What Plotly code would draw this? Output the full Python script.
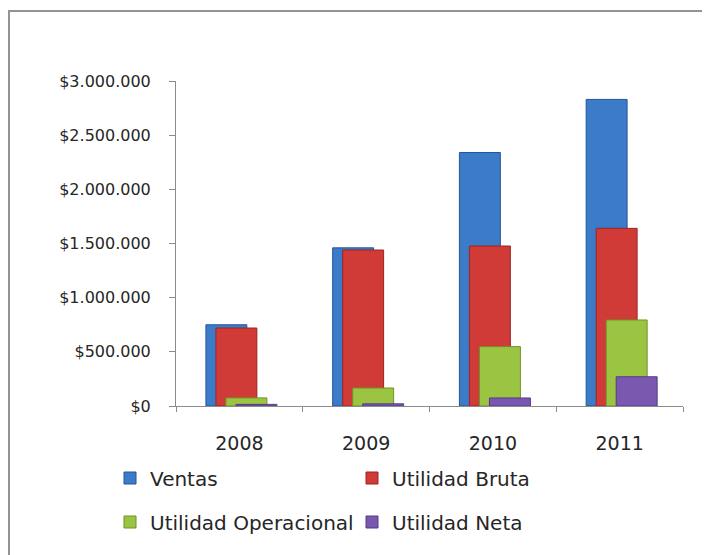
import plotly.graph_objects as go

years = ["2008", "2009", "2010", "2011"]
series_names = ["Ventas", "Utilidad Bruta", "Utilidad Operacional", "Utilidad Neta"]
ventas = [750000, 1460000, 2340000, 2830000]
utilidad_bruta = [720000, 1440000, 1477000, 1640000]
utilidad_operacional = [75000, 166000, 548000, 794000]
utilidad_neta = [15000, 20000, 74000, 270000]
y_ticks = [0, 500000, 1000000, 1500000, 2000000, 2500000, 3000000]
y_tick_labels = ["$" + f"{v:,}".replace(",", ".") for v in y_ticks]

values = [ventas, utilidad_bruta, utilidad_operacional, utilidad_neta]
colors = ["#3b7bc8", "#d03b38", "#9cc443", "#7b58b0"]
edges = ["#24569a", "#9c2523", "#6f9128", "#553a85"]
offsets = [-0.264, -0.185, -0.106, -0.027]
legend_ids = ["legend", "legend", "legend2", "legend2"]

# page body has an 8px margin, so work in figure coordinates
W, H = 702, 547
L, R, T, B = 168, 27, 73, 149
pw, ph = W - L - R, H - T - B

def px(x):
    return (x - L) / pw

def py(y):
    return (H - B - y) / ph

fig = go.Figure()
for name, vals, c, e, off, lg in zip(series_names, values, colors, edges, offsets, legend_ids):
    fig.add_trace(go.Bar(
        x=years, y=vals, name=name,
        marker=dict(color=c, line=dict(color=e, width=1)),
        width=0.323, offset=off, legend=lg,
    ))

font_fam = "DejaVu Sans, Verdana, sans-serif"
fig.update_layout(
    width=W, height=H,
    margin=dict(l=L, r=R, t=T, b=B, pad=0),
    paper_bgcolor="white", plot_bgcolor="white",
    barmode="overlay",
    font=dict(family=font_fam, color="#262626"),
    xaxis=dict(
        type="category", range=[-0.5, 3.5],
        showline=True, linecolor="#8c8c8c", linewidth=1,
        ticks="outside", ticklen=5, tickcolor="#8c8c8c", tickson="boundaries",
        tickfont=dict(size=19), ticklabelstandoff=20,
        showgrid=False, zeroline=False,
    ),
    yaxis=dict(
        range=[0, 3000000], tickvals=y_ticks, ticktext=y_tick_labels,
        showline=True, linecolor="#8c8c8c", linewidth=1,
        ticks="outside", ticklen=6, tickcolor="#8c8c8c",
        tickfont=dict(size=16), ticklabelstandoff=15,
        showgrid=False, zeroline=False,
    ),
    legend=dict(
        orientation="h", x=px(102), xanchor="left", y=py(470), yanchor="middle",
        font=dict(size=20), entrywidth=197, traceorder="normal",
        bgcolor="rgba(0,0,0,0)",
    ),
    legend2=dict(
        orientation="h", x=px(102), xanchor="left", y=py(514), yanchor="middle",
        font=dict(size=20), entrywidth=197, traceorder="normal",
        bgcolor="rgba(0,0,0,0)",
    ),
    shapes=[dict(
        type="rect", xref="paper", yref="paper",
        x0=px(1), x1=px(730), y0=py(575), y1=py(3),
        line=dict(color="#939393", width=2), fillcolor="rgba(0,0,0,0)",
    )],
)

fig.write_html("out.html")
